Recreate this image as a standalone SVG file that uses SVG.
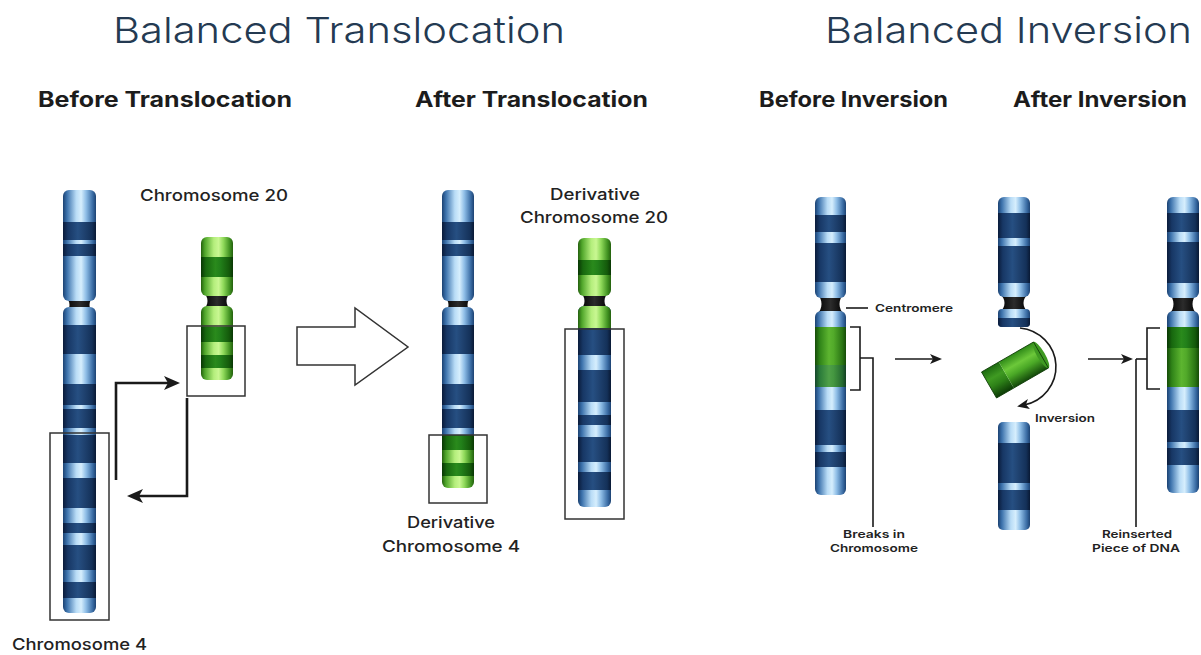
<svg xmlns="http://www.w3.org/2000/svg" width="1201" height="655" viewBox="0 0 1201 655">
<style>
text{font-family:Inter,"Liberation Sans","DejaVu Sans",sans-serif;}
.title{font-size:36px;font-weight:300;fill:#243a52;}
.sub{font-size:21px;font-weight:700;fill:#1c1c1c;}
.lbl{font-size:16px;font-weight:500;fill:#222;}
.sm{font-size:11px;font-weight:600;fill:#222;}
.box{fill:none;stroke:#333;stroke-width:1.5;}
.thick{fill:none;stroke:#1a1a1a;stroke-width:2.6;}
.thin{fill:none;stroke:#1a1a1a;stroke-width:1.6;}
.bl{fill:url(#bl);} .bd{fill:url(#bd);} .gl{fill:url(#gl);} .gd{fill:url(#gd);} .gm{fill:url(#gm);} .gm2{fill:url(#gm2);}
.cen{fill:url(#cen);}
</style>
<defs>
<linearGradient id="bl" x1="0" y1="0" x2="1" y2="0">
<stop offset="0" stop-color="#1c4272"/><stop offset="0.12" stop-color="#3c72ac"/><stop offset="0.4" stop-color="#b9dcf6"/><stop offset="0.55" stop-color="#d6eefd"/><stop offset="0.7" stop-color="#8ebde6"/><stop offset="0.9" stop-color="#3a6ca4"/><stop offset="1" stop-color="#1c4272"/>
</linearGradient>
<linearGradient id="bd" x1="0" y1="0" x2="1" y2="0">
<stop offset="0" stop-color="#0a1b3a"/><stop offset="0.15" stop-color="#173765"/><stop offset="0.45" stop-color="#264f82"/><stop offset="0.6" stop-color="#214574"/><stop offset="0.88" stop-color="#143159"/><stop offset="1" stop-color="#091934"/>
</linearGradient>
<linearGradient id="gl" x1="0" y1="0" x2="1" y2="0">
<stop offset="0" stop-color="#24600e"/><stop offset="0.12" stop-color="#4fa52a"/><stop offset="0.4" stop-color="#b4ee7c"/><stop offset="0.55" stop-color="#c9f792"/><stop offset="0.7" stop-color="#8fd95a"/><stop offset="0.9" stop-color="#3f9020"/><stop offset="1" stop-color="#24600e"/>
</linearGradient>
<linearGradient id="gd" x1="0" y1="0" x2="1" y2="0">
<stop offset="0" stop-color="#093604"/><stop offset="0.15" stop-color="#17670e"/><stop offset="0.45" stop-color="#2a8a1c"/><stop offset="0.6" stop-color="#22801a"/><stop offset="0.88" stop-color="#145a0b"/><stop offset="1" stop-color="#093604"/>
</linearGradient>
<linearGradient id="gm" x1="0" y1="0" x2="1" y2="0">
<stop offset="0" stop-color="#164b08"/><stop offset="0.15" stop-color="#2f8318"/><stop offset="0.45" stop-color="#5db530"/><stop offset="0.6" stop-color="#52aa2a"/><stop offset="0.88" stop-color="#2a7514"/><stop offset="1" stop-color="#164b08"/>
</linearGradient>
<linearGradient id="gm2" x1="0" y1="0" x2="1" y2="0">
<stop offset="0" stop-color="#14452a"/><stop offset="0.15" stop-color="#2a7a3a"/><stop offset="0.45" stop-color="#4fa048"/><stop offset="0.6" stop-color="#449640"/><stop offset="0.88" stop-color="#256a30"/><stop offset="1" stop-color="#123f22"/>
</linearGradient>
<linearGradient id="gr1" x1="0" y1="0" x2="0" y2="1">
<stop offset="0" stop-color="#2f8a18"/><stop offset="0.35" stop-color="#6cc83a"/><stop offset="0.6" stop-color="#4aa826"/><stop offset="1" stop-color="#13480a"/>
</linearGradient>
<linearGradient id="gr2" x1="0" y1="0" x2="0" y2="1">
<stop offset="0" stop-color="#1c6a10"/><stop offset="0.35" stop-color="#3f9a22"/><stop offset="0.6" stop-color="#2e8218"/><stop offset="1" stop-color="#0c3a06"/>
</linearGradient>
<linearGradient id="cen" x1="0" y1="0" x2="1" y2="0">
<stop offset="0" stop-color="#000"/><stop offset="0.5" stop-color="#2c2c2c"/><stop offset="1" stop-color="#000"/>
</linearGradient>
<clipPath id="c4u"><rect x="63" y="190" width="33" height="111" rx="6"/></clipPath>
<clipPath id="c4l"><rect x="63" y="307" width="33" height="306" rx="6"/></clipPath>
<clipPath id="c20u"><rect x="201" y="237" width="32" height="59" rx="6"/></clipPath>
<clipPath id="c20l"><rect x="201" y="306" width="32" height="74" rx="6"/></clipPath>
<clipPath id="d4u"><rect x="442" y="190" width="32" height="111" rx="6"/></clipPath>
<clipPath id="d4l"><rect x="442" y="307" width="32" height="181" rx="6"/></clipPath>
<clipPath id="d20u"><rect x="578" y="238" width="33" height="58" rx="6"/></clipPath>
<clipPath id="d20l"><rect x="578" y="306" width="33" height="201" rx="6"/></clipPath>
<clipPath id="ibu"><rect x="815" y="197" width="31" height="101" rx="6"/></clipPath>
<clipPath id="ibl"><rect x="815" y="311" width="31" height="184" rx="6"/></clipPath>
<clipPath id="imu"><rect x="998" y="197" width="32" height="100" rx="6"/></clipPath>
<clipPath id="imm"><rect x="998" y="309" width="32" height="18" rx="4"/></clipPath>
<clipPath id="iml"><rect x="998" y="422" width="32" height="108" rx="5"/></clipPath>
<clipPath id="iau"><rect x="1167" y="197" width="32" height="101" rx="6"/></clipPath>
<clipPath id="ial"><rect x="1167" y="311" width="32" height="182" rx="6"/></clipPath>
<marker id="ahT" viewBox="0 0 16 14" refX="6" refY="7" markerWidth="16" markerHeight="14" markerUnits="userSpaceOnUse" orient="auto"><path d="M0,0 L16,7 L0,14 L4,7 Z" fill="#1a1a1a"/></marker>
<marker id="ahS" viewBox="0 0 12 10" refX="5" refY="5" markerWidth="12" markerHeight="10" markerUnits="userSpaceOnUse" orient="auto"><path d="M0,0 L12,5 L0,10 L3,5 Z" fill="#1a1a1a"/></marker>
</defs>
<rect width="1201" height="655" fill="#ffffff"/>

<g id="headings">
<text class="title" x="113" y="43" textLength="452" lengthAdjust="spacingAndGlyphs">Balanced Translocation</text>
<text class="title" x="825" y="43" textLength="367" lengthAdjust="spacingAndGlyphs">Balanced Inversion</text>
<text class="sub" x="38" y="107" textLength="254" lengthAdjust="spacingAndGlyphs">Before Translocation</text>
<text class="sub" x="415" y="107" textLength="233" lengthAdjust="spacingAndGlyphs">After Translocation</text>
<text class="sub" x="759" y="107" textLength="189" lengthAdjust="spacingAndGlyphs">Before Inversion</text>
<text class="sub" x="1013" y="107" textLength="174" lengthAdjust="spacingAndGlyphs">After Inversion</text>
</g>

<g id="chromosome-4">
<path class="cen" d="M65,296 C71,301 71,309 65,314 L94,314 C88,309 88,301 94,296 Z"/>
<g clip-path="url(#c4u)">
<rect class="bl" x="63" y="190" width="33" height="111"/>
<rect class="bd" x="63" y="222" width="33" height="18"/>
<rect class="bd" x="63" y="244" width="33" height="12"/>
</g>
<g clip-path="url(#c4l)">
<rect class="bl" x="63" y="307" width="33" height="306"/>
<rect class="bd" x="63" y="325" width="33" height="29"/>
<rect class="bd" x="63" y="384" width="33" height="21"/>
<rect class="bd" x="63" y="409" width="33" height="19"/>
<rect class="bd" x="63" y="435" width="33" height="28"/>
<rect class="bd" x="63" y="478" width="33" height="30"/>
<rect class="bd" x="63" y="523" width="33" height="10"/>
<rect class="bd" x="63" y="545" width="33" height="25"/>
<rect class="bd" x="63" y="582" width="33" height="16"/>
</g>
<rect class="box" x="50" y="433" width="59" height="187"/>
<text class="lbl" x="12" y="650" textLength="135" lengthAdjust="spacingAndGlyphs">Chromosome 4</text>
</g>

<g id="chromosome-20">
<path class="cen" d="M203,292 C209,297 209,305 203,310 L231,310 C225,305 225,297 231,292 Z"/>
<g clip-path="url(#c20u)">
<rect class="gl" x="201" y="237" width="32" height="59"/>
<rect class="gd" x="201" y="257" width="32" height="20"/>
</g>
<g clip-path="url(#c20l)">
<rect class="gl" x="201" y="306" width="32" height="74"/>
<rect class="gd" x="201" y="327" width="32" height="15"/>
<rect class="gd" x="201" y="355" width="32" height="13"/>
</g>
<rect class="box" x="187" y="326" width="58" height="70"/>
<text class="lbl" x="140" y="201" textLength="148" lengthAdjust="spacingAndGlyphs">Chromosome 20</text>
</g>

<g id="transition-arrow">
<polygon points="297,327 355,327 355,308 408,347 355,385 355,365 297,365" fill="#fff" stroke="#333" stroke-width="1.5" stroke-linejoin="miter"/>
</g>

<g id="derivative-chromosome-4">
<path class="cen" d="M444,296 C450,301 450,309 444,314 L472,314 C466,309 466,301 472,296 Z"/>
<g clip-path="url(#d4u)">
<rect class="bl" x="442" y="190" width="32" height="111"/>
<rect class="bd" x="442" y="222" width="32" height="18"/>
<rect class="bd" x="442" y="244" width="32" height="12"/>
</g>
<g clip-path="url(#d4l)">
<rect class="bl" x="442" y="307" width="32" height="128"/>
<rect class="bd" x="442" y="325" width="32" height="29"/>
<rect class="bd" x="442" y="384" width="32" height="21"/>
<rect class="bd" x="442" y="409" width="32" height="19"/>
<rect class="gd" x="442" y="435" width="32" height="15"/>
<rect class="gl" x="442" y="450" width="32" height="13"/>
<rect class="gd" x="442" y="463" width="32" height="13"/>
<rect class="gl" x="442" y="476" width="32" height="12"/>
</g>
<rect class="box" x="429" y="435" width="58" height="68"/>
<text class="lbl" x="451" y="528" text-anchor="middle" textLength="88" lengthAdjust="spacingAndGlyphs">Derivative</text>
<text class="lbl" x="451" y="552" text-anchor="middle" textLength="138" lengthAdjust="spacingAndGlyphs">Chromosome 4</text>
</g>

<g id="derivative-chromosome-20">
<path class="cen" d="M580,292 C586,297 586,305 580,310 L609,310 C603,305 603,297 609,292 Z"/>
<g clip-path="url(#d20u)">
<rect class="gl" x="578" y="238" width="33" height="58"/>
<rect class="gd" x="578" y="260" width="33" height="15"/>
</g>
<g clip-path="url(#d20l)">
<rect class="bl" x="578" y="306" width="33" height="201"/>
<rect class="gl" x="578" y="306" width="33" height="22"/>
<rect class="bd" x="578" y="328" width="33" height="27"/>
<rect class="bd" x="578" y="370" width="33" height="32"/>
<rect class="bd" x="578" y="415" width="33" height="10"/>
<rect class="bd" x="578" y="437" width="33" height="25"/>
<rect class="bd" x="578" y="472" width="33" height="18"/>
</g>
<rect class="box" x="565" y="329" width="59" height="190"/>
<text class="lbl" x="595" y="200" text-anchor="middle" textLength="90" lengthAdjust="spacingAndGlyphs">Derivative</text>
<text class="lbl" x="594" y="223" text-anchor="middle" textLength="148" lengthAdjust="spacingAndGlyphs">Chromosome 20</text>
</g>

<g id="before-inversion">
<path class="cen" d="M817,294 C823,299 823,309 817,314 L844,314 C838,309 838,299 844,294 Z"/>
<g clip-path="url(#ibu)">
<rect class="bl" x="815" y="197" width="31" height="101"/>
<rect class="bd" x="815" y="215" width="31" height="17"/>
<rect class="bd" x="815" y="243" width="31" height="39"/>
</g>
<g clip-path="url(#ibl)">
<rect class="bl" x="815" y="311" width="31" height="184"/>
<rect class="gm" x="815" y="327" width="31" height="38"/>
<rect class="gm2" x="815" y="365" width="31" height="22"/>
<rect class="bd" x="815" y="410" width="31" height="35"/>
<rect class="bd" x="815" y="452" width="31" height="15"/>
</g>
<text class="sm" x="875" y="312" textLength="78" lengthAdjust="spacingAndGlyphs">Centromere</text>
<text class="sm" x="874" y="538" text-anchor="middle" textLength="62" lengthAdjust="spacingAndGlyphs">Breaks in</text>
<text class="sm" x="874" y="552" text-anchor="middle" textLength="88" lengthAdjust="spacingAndGlyphs">Chromosome</text>
</g>

<g id="during-inversion">
<path class="cen" d="M1000,294 C1006,299 1006,307 1000,312 L1028,312 C1022,307 1022,299 1028,294 Z"/>
<g clip-path="url(#imu)">
<rect class="bl" x="998" y="197" width="32" height="100"/>
<rect class="bd" x="998" y="213" width="32" height="25"/>
<rect class="bd" x="998" y="246" width="32" height="37"/>
</g>
<g clip-path="url(#imm)">
<rect class="bl" x="998" y="309" width="32" height="18"/>
<rect class="bd" x="998" y="318" width="32" height="9"/>
</g>
<g clip-path="url(#iml)">
<rect class="bl" x="998" y="422" width="32" height="108"/>
<rect class="bd" x="998" y="443" width="32" height="40"/>
<rect class="bd" x="998" y="490" width="32" height="20"/>
</g>
<g transform="translate(1015,370) rotate(-30)">
<rect x="-30" y="-15" width="20" height="30" fill="url(#gr2)"/>
<rect x="-10" y="-15" width="40" height="30" fill="url(#gr1)"/>
<ellipse cx="30" cy="0" rx="4" ry="15" fill="#3f9a22"/>
<rect x="-30" y="-15" width="60" height="30" fill="none" stroke="#0d3a06" stroke-width="0.8"/>
</g>
<text class="sm" x="1035" y="422" textLength="60" lengthAdjust="spacingAndGlyphs">Inversion</text>
</g>

<g id="after-inversion">
<path class="cen" d="M1169,294 C1175,299 1175,309 1169,314 L1197,314 C1191,309 1191,299 1197,294 Z"/>
<g clip-path="url(#iau)">
<rect class="bl" x="1167" y="197" width="32" height="101"/>
<rect class="bd" x="1167" y="213" width="32" height="19"/>
<rect class="bd" x="1167" y="242" width="32" height="41"/>
</g>
<g clip-path="url(#ial)">
<rect class="bl" x="1167" y="311" width="32" height="182"/>
<rect class="gd" x="1167" y="327" width="32" height="21"/>
<rect class="gm" x="1167" y="348" width="32" height="39"/>
<rect class="bd" x="1167" y="410" width="32" height="32"/>
<rect class="bd" x="1167" y="448" width="32" height="17"/>
</g>
<text class="sm" x="1137" y="538" text-anchor="middle" textLength="70" lengthAdjust="spacingAndGlyphs">Reinserted</text>
<text class="sm" x="1136" y="552" text-anchor="middle" textLength="88" lengthAdjust="spacingAndGlyphs">Piece of DNA</text>
</g>

<g id="connectors">
<path class="thick" d="M116,480 L116,383 L170,383" marker-end="url(#ahT)"/>
<path class="thick" d="M187,398 L187,496 L137,496" marker-end="url(#ahT)"/>
<path class="thin" d="M846,308 L868,308"/>
<path class="thin" d="M850,327 L860,327 L860,390 L850,390"/>
<path class="thin" d="M860,358 L873,358 L873,527"/>
<path class="thin" d="M895,359 L935,359" marker-end="url(#ahS)"/>
<path class="thin" d="M1020,328 A40 39 0 0 1 1024,405" marker-end="url(#ahS)"/>
<path class="thin" d="M1088,359 L1126,359" marker-end="url(#ahS)"/>
<path class="thin" d="M1136,359 L1147,359"/>
<path class="thin" d="M1136,359 L1136,527"/>
<path class="thin" d="M1160,328 L1147,328 L1147,389 L1160,389"/>
</g>
</svg>
